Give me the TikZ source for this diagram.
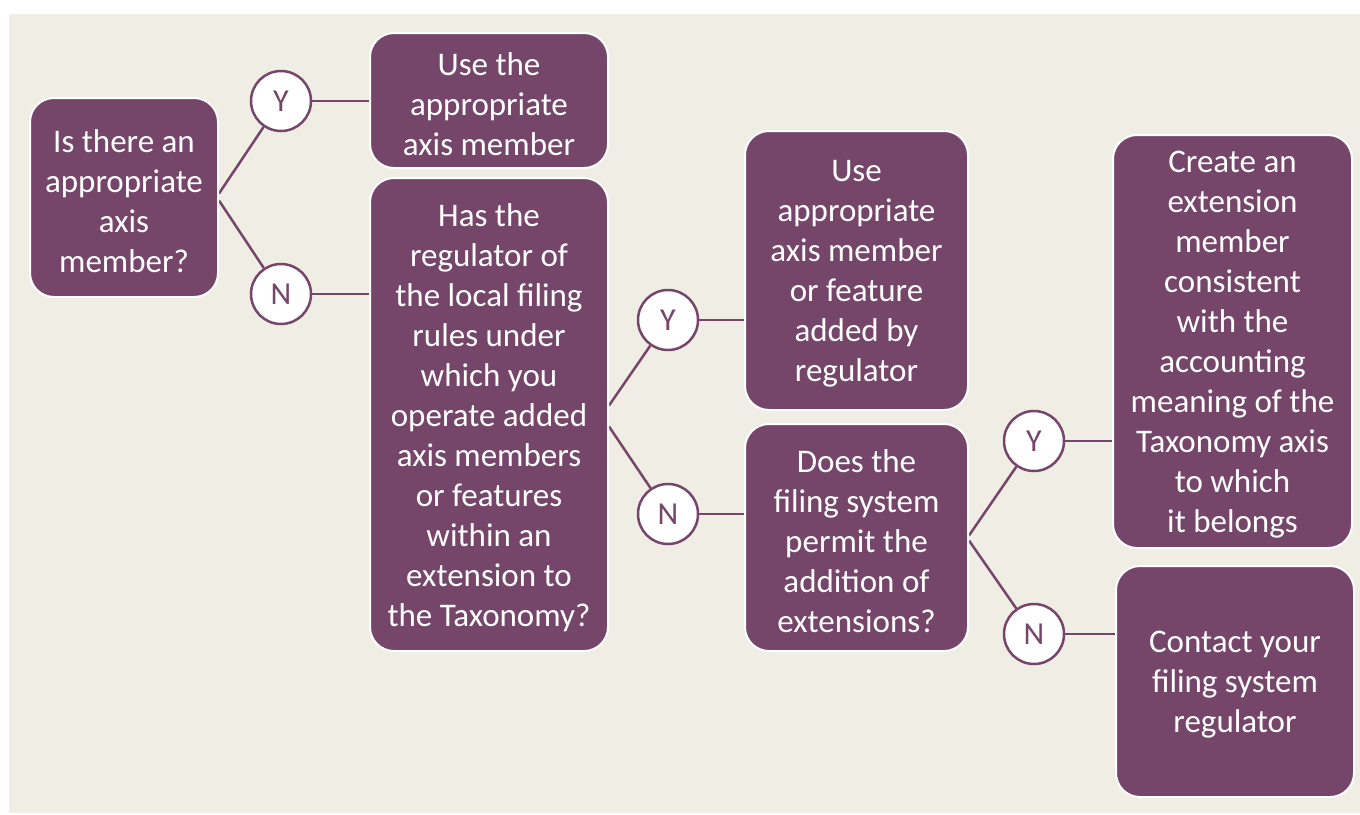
\documentclass[tikz,border=0pt]{standalone}
\usepackage{fontspec}
\setmainfont{Carlito}
\definecolor{plum}{HTML}{76466A}
\definecolor{bg}{HTML}{F0EDE5}
\pgfdeclarelayer{back}
\pgfdeclarelayer{links}
\pgfsetlayers{back,links,main}
\begin{document}
\begin{tikzpicture}[x=1pt,y=-1pt,
 box/.style={draw=white, line width=2pt, fill=plum, rounded corners=24pt, inner sep=0pt},
 txt/.style={text=white, align=center, font=\fontsize{33}{40}\selectfont, inner sep=0pt},
 yn/.style={circle, draw=plum, line width=2.5pt, fill=white, minimum size=60pt, inner sep=0pt, text=plum, font=\fontsize{32}{36}\selectfont},
 link/.style={draw=plum, line width=2.5pt}]
\useasboundingbox (0,0) rectangle (1360,814);
\begin{pgfonlayer}{back}
\fill[white] (0,0) rectangle (1360,814);
\fill[bg] (9,14) rectangle (1360,813);
\end{pgfonlayer}

\node[box, minimum width=188pt, minimum height=199pt] (A) at (124,197.5) {};
\node[box, minimum width=238pt, minimum height=135pt] (B) at (489,100.5) {};
\node[box, minimum width=238pt, minimum height=473pt] (C) at (489,414.5) {};
\node[box, minimum width=223pt, minimum height=279pt] (D) at (856.5,270.5) {};
\node[box, minimum width=223pt, minimum height=227pt] (E) at (856.5,537.5) {};
\node[box, minimum width=239pt, minimum height=413pt] (F) at (1232.5,341.5) {};
\node[box, minimum width=238pt, minimum height=231pt] (G) at (1235,681.5) {};

\node[txt] (At) at ([yshift=-3.5pt]A.center) {Is there an\\appropriate\\axis\\member?};
\node[txt] (Bt) at ([yshift=-3.5pt]B.center) {Use the\\appropriate\\axis member};
\node[txt] (Ct) at ([yshift=-3.5pt]C.center) {Has the\\regulator of\\the local filing\\rules under\\which you\\operate added\\axis members\\or features\\within an\\extension to\\the Taxonomy?};
\node[txt] (Dt) at ([yshift=-3.5pt]D.center) {Use\\appropriate\\axis member\\or feature\\added by\\regulator};
\node[txt] (Et) at ([yshift=-3.5pt]E.center) {Does the\\filing system\\permit the\\addition of\\extensions?};
\node[txt] (Ft) at ([yshift=-3.5pt]F.center) {Create an\\extension\\member\\consistent\\with the\\accounting\\meaning of the\\Taxonomy axis\\to which\\it belongs};
\node[txt] (Gt) at ([yshift=-3.5pt]G.center) {Contact your\\filing system\\regulator};

\node[yn] (Y1) at (281,101) {Y};
\node[yn] (N1) at (281,294) {N};
\node[yn] (Y2) at (668,320) {Y};
\node[yn] (N2) at (668,514) {N};
\node[yn] (Y3) at (1034,441) {Y};
\node[yn] (N3) at (1034,634) {N};

\begin{pgfonlayer}{links}
\path[link] ([yshift=4pt]A.east) -- (Y1);
\path[link] ([yshift=-3pt]A.east) -- (N1);
\path[link] (Y1) -- (Y1 -| B.west);
\path[link] (N1) -- (N1 -| C.west);
\path[link] ([yshift=9pt]C.east) -- (Y2);
\path[link] ([yshift=-12pt]C.east) -- (N2);
\path[link] (Y2) -- (Y2 -| D.west);
\path[link] (N2) -- (N2 -| E.west);
\path[link] ([yshift=2pt]E.east) -- (Y3);
\path[link] ([yshift=-3pt]E.east) -- (N3);
\path[link] (Y3) -- (Y3 -| F.west);
\path[link] (N3) -- (N3 -| G.west);
\end{pgfonlayer}
\end{tikzpicture}
\end{document}
